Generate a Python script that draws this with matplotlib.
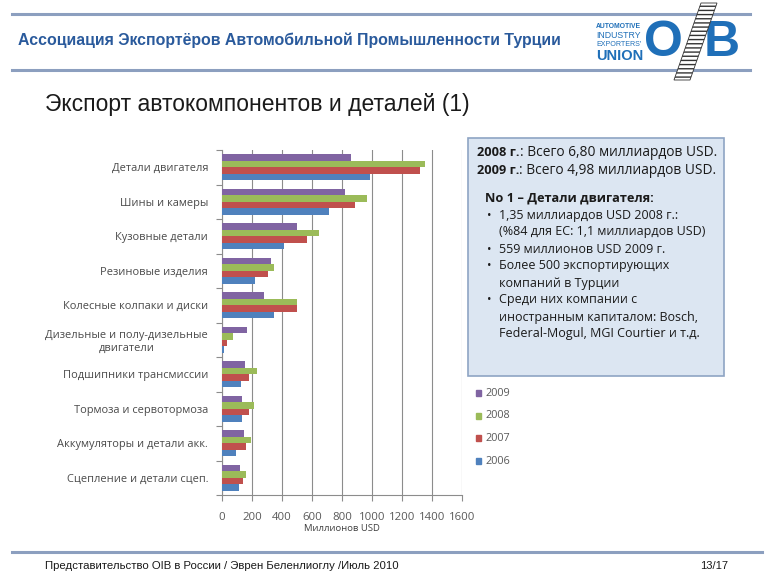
import matplotlib
matplotlib.use('Agg')
import matplotlib.pyplot as plt
import numpy as np
from matplotlib.patches import Polygon, Rectangle
from matplotlib.lines import Line2D
from matplotlib.text import Annotation

# Данные (миллионов USD)
categories = ['Детали двигателя', 'Шины и камеры', 'Кузовные детали', 'Резиновые изделия',
              'Колесные колпаки и диски', 'Дизельные и полу-дизельные\nдвигатели',
              'Подшипники трансмиссии', 'Тормоза и сервотормоза',
              'Аккумуляторы и детали акк.', 'Сцепление и детали сцеп.']
years = ['2009', '2008', '2007', '2006']
v2009 = [858, 818, 498, 327, 280, 167, 151, 131, 147, 118]
v2008 = [1351, 969, 647, 349, 498, 71, 231, 213, 193, 158]
v2007 = [1322, 885, 569, 307, 498, 31, 178, 178, 158, 138]
v2006 = [989, 711, 414, 222, 347, 13, 129, 136, 93, 111]
colors = ['#8064a2', '#9bbb59', '#c0504d', '#4f81bd']
xticks = [0, 200, 400, 600, 800, 1000, 1200, 1400, 1600]

W, H = 768, 576
fig = plt.figure(figsize=(7.68, 5.76), dpi=100)
fam = ['Open Sans', 'DejaVu Sans']
hdr = ['Liberation Sans', 'DejaVu Sans']


def px(x, y):
    return x / W, 1 - y / H


# Шапка
for yy in (14, 70):
    fig.add_artist(Line2D([12 / W, 750 / W], [1 - yy / H] * 2, color='#8c9fbf', lw=2.2))
fig.text(*px(18, 40), 'Ассоциация Экспортёров Автомобильной Промышленности Турции',
         fontsize=11.4, fontweight='bold', color='#2a5a9c', family=hdr, va='center')

# Логотип
logo_blue = '#1f6fb8'
fig.text(*px(596, 26), 'AUTOMOTIVE', fontsize=4.9, fontweight='bold', color=logo_blue, family=hdr, va='center')
fig.text(*px(596, 35), 'INDUSTRY', fontsize=6.3, color=logo_blue, family=hdr, va='center')
fig.text(*px(596, 45), "EXPORTERS'", fontsize=5.1, color=logo_blue, family=hdr, va='center')
fig.text(*px(596, 56), 'UNION', fontsize=10.5, fontweight='bold', color=logo_blue, family=hdr, va='center')
fig.text(*px(644, 43), 'O', fontsize=36, fontweight='bold', color=logo_blue, family=hdr, va='center')
fig.text(*px(704, 43), 'B', fontsize=36, fontweight='bold', color=logo_blue, family=hdr, va='center')
stripe = Polygon([px(701, 3), px(717, 3), px(690, 80), px(674, 80)], closed=True,
                 facecolor='white', edgecolor='#333333', hatch='----', lw=0.6,
                 transform=fig.transFigure, zorder=4)
fig.add_artist(stripe)

# Заголовок
fig.text(*px(45, 104), 'Экспорт автокомпонентов и деталей (1)', fontsize=16.5,
         family=hdr, color='#1a1a1a', va='center')

# График
ax = fig.add_axes([222 / W, 1 - 495 / H, 240 / W, 345 / H])
y = np.arange(len(categories))
h = 0.19
for k, (vals, c) in enumerate(zip([v2009, v2008, v2007, v2006], colors)):
    ax.barh(y + (k - 1.5) * h, vals, height=h, color=c, label=years[k], zorder=3)

ax.set_ylim(len(categories) - 0.5, -0.5)
ax.set_xlim(0, 1600)
ax.set_xticks(xticks)
ax.set_xticklabels([str(t) for t in xticks], family=fam, fontsize=8.2, color='#595959')
ax.set_yticks(y)
ax.set_yticklabels(categories, family=fam, fontsize=7.9, color='#4a4a4a', multialignment='center')
ax.set_yticks(np.arange(len(categories) + 1) - 0.5, minor=True)
ax.tick_params(axis='y', which='major', length=0, pad=10)
ax.tick_params(axis='y', which='minor', length=4, color='#8c8c8c', width=0.8)
ax.tick_params(axis='x', length=4, color='#8c8c8c', width=0.8, pad=8)
ax.grid(axis='x', color='#8c8c8c', lw=0.8, zorder=0)
for s in ('top', 'right'):
    ax.spines[s].set_visible(False)
for s in ('left', 'bottom'):
    ax.spines[s].set_color('#8c8c8c')
    ax.spines[s].set_linewidth(0.8)
ax.set_xlabel('Миллионов USD', family=fam, fontsize=6.8, color='#404040', labelpad=1)

# Легенда
for k, (yr, c) in enumerate(zip(years, colors)):
    yy = 393 + k * 22.7
    fig.add_artist(Rectangle(px(476, yy + 3), 5 / W, 6 / H, color=c, transform=fig.transFigure))
    fig.text(*px(485, yy), yr, fontsize=7.8, family=fam, color='#595959', va='center')

# Текстовый блок
fig.add_artist(Rectangle(px(468, 376), 256 / W, 238 / H, facecolor='#dce6f2',
                         edgecolor='#8ea4c4', lw=1.2, transform=fig.transFigure, zorder=1))
for yy, b, r in [(153, '2008 г.', ': Всего 6,80 миллиардов USD.'),
                 (170, '2009 г.', ': Всего 4,98 миллиардов USD.')]:
    t = fig.text(*px(477, yy), b, fontsize=9.2, fontweight='bold', family=fam,
                 color='#1a1a1a', va='center', zorder=5)
    ann = Annotation(r, xy=(1, 0.5), xycoords=t, va='center', ha='left',
                     fontsize=9.9, family=fam, color='#1a1a1a', zorder=5)
    fig.add_artist(ann)

fig.text(*px(485, 198), 'No 1 – Детали двигателя:', fontsize=9.2, fontweight='bold',
         family=fam, color='#1a1a1a', va='center', zorder=5)
lines = [(215, True, '1,35 миллиардов USD 2008 г.:'),
         (232, False, '(%84 для ЕС: 1,1 миллиардов USD)'),
         (249, True, '559 миллионов USD 2009 г.'),
         (266, True, 'Более 500 экспортирующих'),
         (283, False, 'компаний в Турции'),
         (300, True, 'Среди них компании с'),
         (317, False, 'иностранным капиталом: Bosch,'),
         (334, False, 'Federal-Mogul, MGI Courtier и т.д.')]
for yy, bullet, txt in lines:
    if bullet:
        fig.text(*px(487, yy), '•', fontsize=8.6, family=fam, color='#1a1a1a', va='center', zorder=5)
    fig.text(*px(499, yy), txt, fontsize=9.0, family=fam, color='#1a1a1a', va='center', zorder=5)

# Подвал
fig.add_artist(Line2D([12 / W, 762 / W], [1 - 552 / H] * 2, color='#8c9fbf', lw=2.2))
fig.text(*px(45, 566), 'Представительство OIB в России / Эврен Беленлиоглу /Июль 2010',
         fontsize=8.2, family=hdr, color='#1a1a1a', va='center')
fig.text(*px(700, 566), '13/17', fontsize=8, family=hdr, color='#1a1a1a', va='center')

fig.savefig('out.png', dpi=100, facecolor='white')
